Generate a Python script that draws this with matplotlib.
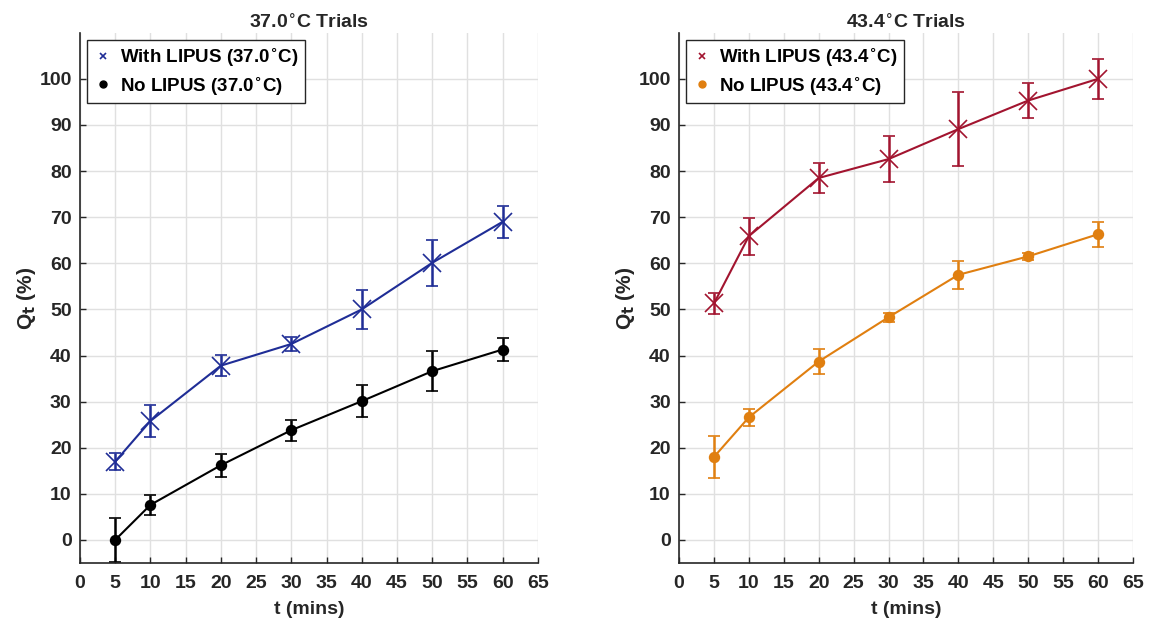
import matplotlib
matplotlib.use("Agg")
import matplotlib.pyplot as plt
from matplotlib.lines import Line2D
import numpy as np

plt.rcParams['font.family'] = ['Liberation Sans', 'DejaVu Sans']
plt.rcParams['font.weight'] = 'bold'
plt.rcParams['mathtext.default'] = 'bf'

# time points (mins)
t = [5, 10, 20, 30, 40, 50, 60]

# 37.0 C trials
with_37 = [17.0, 25.8, 37.8, 42.5, 50.0, 60.1, 69.0]
with_37_err = [1.8, 3.5, 2.3, 1.5, 4.3, 5.0, 3.5]
no_37 = [0.0, 7.6, 16.2, 23.8, 30.1, 36.6, 41.3]
no_37_err = [4.8, 2.2, 2.5, 2.3, 3.5, 4.3, 2.5]

# 43.4 C trials
with_43 = [51.3, 65.9, 78.5, 82.6, 89.1, 95.3, 100.0]
with_43_err = [2.2, 4.0, 3.3, 5.0, 8.0, 3.8, 4.4]
no_43 = [18.0, 26.6, 38.7, 48.3, 57.5, 61.5, 66.3]
no_43_err = [4.5, 1.8, 2.7, 1.0, 3.0, 0.8, 2.7]

xticks = np.arange(0, 70, 5)
yticks = np.arange(0, 110, 10)

fig = plt.figure(figsize=(11.49, 6.18), dpi=100)
ax1 = fig.add_axes([0.0696, 0.089, 0.3985, 0.858])
ax2 = fig.add_axes([0.591, 0.089, 0.395, 0.858])

dark = '#262626'


def style_axes(ax, title):
    ax.set_xlim(0, 65)
    ax.set_ylim(-5, 110)
    ax.set_xticks(xticks)
    ax.set_yticks(yticks)
    ax.grid(True, color='#e0e0e0', linewidth=1.0)
    ax.set_axisbelow(True)
    for s in ['top', 'right']:
        ax.spines[s].set_visible(False)
    for s in ['left', 'bottom']:
        ax.spines[s].set_color(dark)
        ax.spines[s].set_linewidth(1.2)
    ax.tick_params(direction='in', length=4, width=1, colors=dark,
                   labelsize=14, labelcolor=dark)
    ax.tick_params(axis='x', pad=9)
    ax.tick_params(axis='y', pad=6)
    ax.set_title(title, fontsize=14, fontweight='bold', color=dark, pad=2)
    ax.set_xlabel('t (mins)', fontsize=14, fontweight='bold', color=dark, labelpad=6)
    ax.set_ylabel(r'Q$_{t}$ (%)', fontsize=15, fontweight='bold', color=dark, labelpad=1)


def draw(ax, y, err, color, marker, ms):
    ax.errorbar(t, y, yerr=err, color=color, linewidth=1.5, elinewidth=1.8,
                capsize=4, capthick=1.8, marker=marker, markersize=ms,
                markeredgewidth=1.2)


blue = '#1f2d96'
red = '#a2142f'
orange = '#e07f10'

draw(ax1, with_37, with_37_err, blue, 'x', 13)
draw(ax1, no_37, no_37_err, 'black', 'o', 7)
style_axes(ax1, r'37.0$^{\circ}$C Trials')

draw(ax2, with_43, with_43_err, red, 'x', 13)
draw(ax2, no_43, no_43_err, orange, 'o', 7)
style_axes(ax2, r'43.4$^{\circ}$C Trials')

legend_items = [
    (ax1, blue, 'black', r'With LIPUS (37.0$^{\circ}$C)', r'No LIPUS (37.0$^{\circ}$C)'),
    (ax2, red, orange, r'With LIPUS (43.4$^{\circ}$C)', r'No LIPUS (43.4$^{\circ}$C)'),
]
for ax, c1, c2, l1, l2 in legend_items:
    handles = [
        Line2D([], [], linestyle='none', marker='x', color=c1, markersize=4, markeredgewidth=1.2),
        Line2D([], [], linestyle='none', marker='o', color=c2, markersize=5),
    ]
    leg = ax.legend(handles, [l1, l2], loc='upper left', fontsize=13.5, frameon=True,
                    fancybox=False, edgecolor=dark, framealpha=1,
                    handlelength=1.0, handletextpad=0.4, borderpad=0.35,
                    labelspacing=0.35, borderaxespad=0,
                    bbox_to_anchor=(0.0153, 0.987))
    leg.get_frame().set_linewidth(1.0)

fig.savefig('out.png', dpi=100)
